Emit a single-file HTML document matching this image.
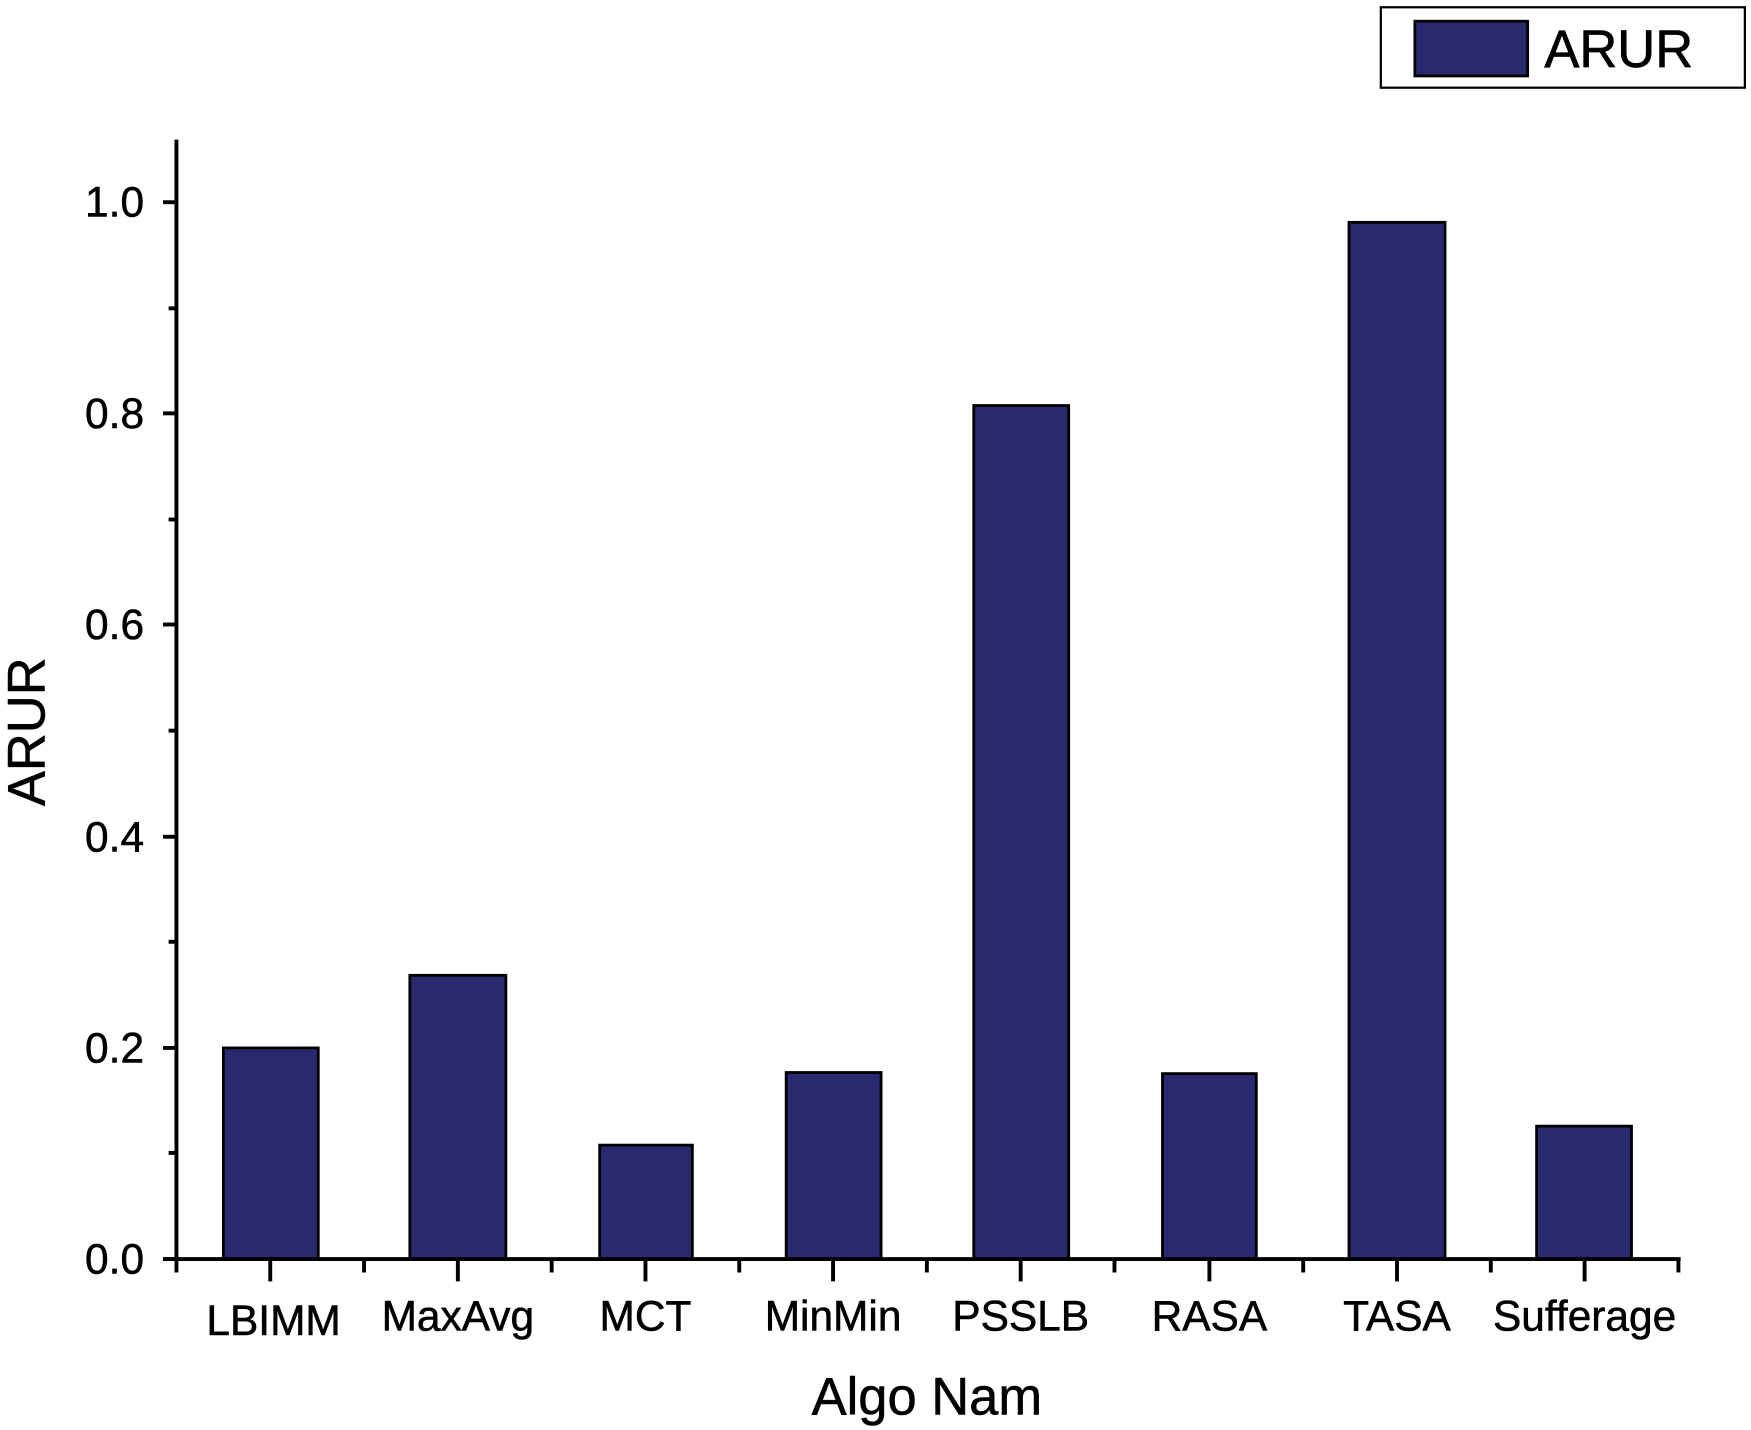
<!DOCTYPE html>
<html><head><meta charset="utf-8"><style>html,body{margin:0;padding:0;background:#fff}svg{display:block}</style></head>
<body>
<svg width="1751" height="1430" viewBox="0 0 1568 1280" preserveAspectRatio="none" xmlns="http://www.w3.org/2000/svg" font-family="Liberation Sans, Arial, sans-serif">
<rect width="1568" height="1280" fill="#fff"/>
<!-- legend -->
<rect x="1236.5" y="6.5" width="326" height="72" fill="#fff" stroke="#000" stroke-width="2"/>
<rect x="1267" y="19" width="101" height="49" fill="#28296f" stroke="#000" stroke-width="2.5"/>
<text x="1383" y="60" font-size="47" fill="#000" stroke="#000" stroke-width="0.6">ARUR</text>
<!-- bars -->
<g fill="#28296f" stroke="#000" stroke-width="2.5">
<rect x="200" y="938" width="85" height="189"/>
<rect x="367" y="873" width="86" height="254"/>
<rect x="537" y="1025" width="83" height="102"/>
<rect x="704" y="960" width="85" height="167"/>
<rect x="872" y="363" width="85" height="764"/>
<rect x="1041" y="961" width="84" height="166"/>
<rect x="1208" y="199" width="86" height="928"/>
<rect x="1376" y="1008" width="85" height="119"/>
</g>
<!-- axes -->
<g stroke="#000" stroke-width="3.5" fill="none">
<line x1="158" y1="125" x2="158" y2="1128"/>
<line x1="146" y1="1127" x2="1505" y2="1127"/>
<line x1="146" y1="1127" x2="158" y2="1127"/>
<line x1="146" y1="938" x2="158" y2="938"/>
<line x1="146" y1="749" x2="158" y2="749"/>
<line x1="146" y1="559" x2="158" y2="559"/>
<line x1="146" y1="370" x2="158" y2="370"/>
<line x1="146" y1="181" x2="158" y2="181"/>
<line x1="151" y1="1032" x2="158" y2="1032"/>
<line x1="151" y1="843" x2="158" y2="843"/>
<line x1="151" y1="654" x2="158" y2="654"/>
<line x1="151" y1="465" x2="158" y2="465"/>
<line x1="151" y1="276" x2="158" y2="276"/>
<line x1="242" y1="1127" x2="242" y2="1147"/>
<line x1="410" y1="1127" x2="410" y2="1147"/>
<line x1="578" y1="1127" x2="578" y2="1147"/>
<line x1="746" y1="1127" x2="746" y2="1147"/>
<line x1="914" y1="1127" x2="914" y2="1147"/>
<line x1="1083" y1="1127" x2="1083" y2="1147"/>
<line x1="1251" y1="1127" x2="1251" y2="1147"/>
<line x1="1419" y1="1127" x2="1419" y2="1147"/>
<line x1="158" y1="1127" x2="158" y2="1139"/>
<line x1="326" y1="1127" x2="326" y2="1139"/>
<line x1="494" y1="1127" x2="494" y2="1139"/>
<line x1="662" y1="1127" x2="662" y2="1139"/>
<line x1="830" y1="1127" x2="830" y2="1139"/>
<line x1="998" y1="1127" x2="998" y2="1139"/>
<line x1="1167" y1="1127" x2="1167" y2="1139"/>
<line x1="1335" y1="1127" x2="1335" y2="1139"/>
<line x1="1503" y1="1127" x2="1503" y2="1139"/>
</g>
<g font-size="38" fill="#000" stroke="#000" stroke-width="0.5" text-anchor="end">
<text x="129" y="1140">0.0</text>
<text x="129" y="951">0.2</text>
<text x="129" y="762">0.4</text>
<text x="129" y="572">0.6</text>
<text x="129" y="383">0.8</text>
<text x="129" y="194">1.0</text>
</g>
<g font-size="38" fill="#000" stroke="#000" stroke-width="0.5" text-anchor="middle">
<text x="245" y="1195">LBIMM</text>
<text x="410" y="1191">MaxAvg</text>
<text x="578" y="1191">MCT</text>
<text x="746" y="1191">MinMin</text>
<text x="914" y="1191">PSSLB</text>
<text x="1083" y="1191">RASA</text>
<text x="1251" y="1191">TASA</text>
<text x="1419" y="1191">Sufferage</text>
</g>
<text x="830" y="1266" font-size="47" text-anchor="middle" fill="#000" stroke="#000" stroke-width="0.5">Algo Nam</text>
<text transform="translate(40,655) rotate(-90)" font-size="47" text-anchor="middle" fill="#000" stroke="#000" stroke-width="0.5">ARUR</text>
</svg>
</body></html>
